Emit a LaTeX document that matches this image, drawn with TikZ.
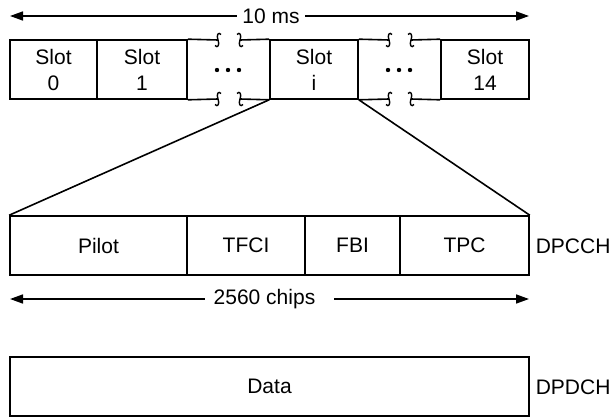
\documentclass[tikz,border=0pt]{standalone}
\usepackage{fontspec}
\setmainfont{Liberation Sans}
\usetikzlibrary{arrows.meta}
\newcommand\sqL[2]{\draw[line width=0.7pt] (#1+3,#2-5.5) .. controls (#1+0.5,#2-8.5) and (#1-2,#2-5) .. (#1,#2) .. controls (#1+2,#2+5) and (#1-0.5,#2+8.5) .. (#1-3,#2+5.5);}
\newcommand\sqR[2]{\draw[line width=0.7pt] (#1-3,#2-5.5) .. controls (#1-0.5,#2-8.5) and (#1+2,#2-5) .. (#1,#2) .. controls (#1-2,#2+5) and (#1+0.5,#2+8.5) .. (#1+3,#2+5.5);}
\begin{document}
\begin{tikzpicture}[x=0.5pt,y=-0.5pt, line width=0.8pt,
  box/.style={draw, rectangle, inner sep=0pt, minimum height=29.5pt, font=\fontsize{10.5}{13}\selectfont, align=center},
  lbl/.style={font=\fontsize{10.5}{13}\selectfont, inner sep=0pt},
  arr/.style={-{Triangle[length=6.5pt,width=4.5pt]}}]
\useasboundingbox (0,0) rectangle (613,417);

% top arrow
\node[lbl, inner xsep=2.5pt] (ms) at (271,16) {10 ms};
\coordinate (msL) at (10,16);
\coordinate (msR) at (529,16);
\draw[arr] (ms.west) -- (msL);
\draw[arr] (ms.east) -- (msR);

% slots
\node[box, minimum width=43.5pt] (s0) at (53.5,69.5) {Slot\\0};
\node[box, minimum width=45pt] (s1) at (142,69.5) {Slot\\1};
\node[box, minimum width=44pt] (si) at (314,69.5) {Slot\\i};
\node[box, minimum width=44pt] (s14) at (485,69.5) {Slot\\14};

% broken cells
\draw (s1.north east) -- (218,40); \sqL{218}{40}
\sqR{240}{40} \draw (240,40) -- (si.north west);
\draw (s1.south east) -- (218,99); \sqL{218}{99}
\sqR{240}{99} \draw (240,99) -- (si.south west);
\draw (si.north east) -- (389,40); \sqL{389}{40}
\sqR{411}{40} \draw (411,40) -- (s14.north west);
\draw (si.south east) -- (389,99); \sqL{389}{99}
\sqR{411}{99} \draw (411,99) -- (s14.south west);
\foreach \x in {217,228,239,388,399,410} \fill (\x,70) circle[radius=2.2];

% DPCCH fields
\node[box, minimum width=88.5pt] (pilot) at (98.5,245.5) {Pilot};
\node[box, minimum width=59pt] (tfci) at (246,245.5) {TFCI};
\node[box, minimum width=47.5pt] (fbi) at (352.5,245.5) {FBI};
\node[box, minimum width=64.5pt] (tpc) at (464.5,245.5) {TPC};
\node[lbl, anchor=west] (dpcch) at (535,246) {DPCCH};

% fan lines
\draw (si.south west) -- (pilot.north west);
\draw (si.south east) -- (tpc.north east);

% chips arrow
\node[lbl] (chips) at (264.5,299) {2560 chips};
\coordinate (chL) at (10,299);
\coordinate (chR) at (529,299);
\draw[arr] ([xshift=-4pt]chips.west) -- (chL);
\draw[arr] ([xshift=9pt]chips.east) -- (chR);

% data
\node[box, minimum width=259.5pt] (data) at (269.5,386.5) {Data};
\node[lbl, anchor=west] (dpdch) at (535,387) {DPDCH};
\end{tikzpicture}
\end{document}
